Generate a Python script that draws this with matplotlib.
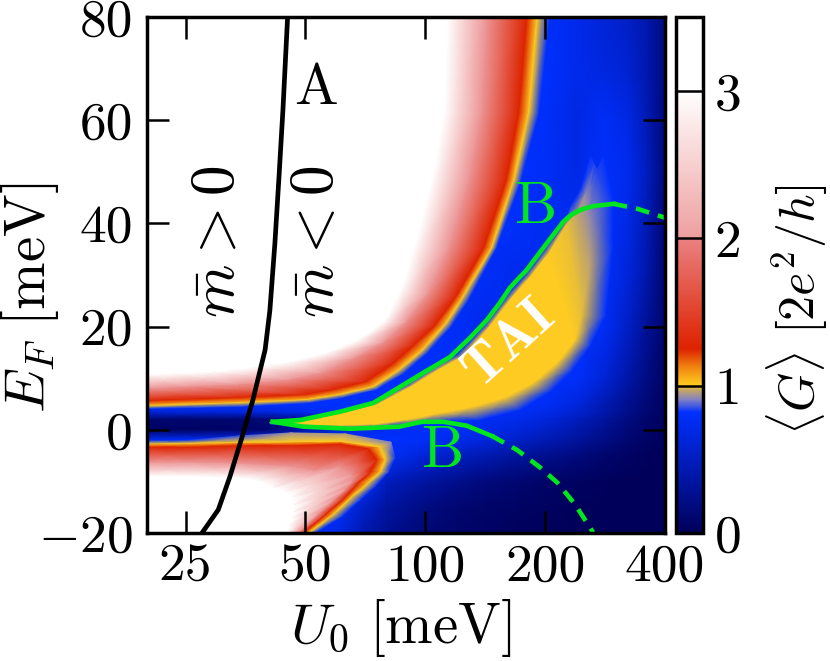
# -*- coding: utf-8 -*-
import numpy as np
import matplotlib
matplotlib.use("Agg")
import matplotlib.pyplot as plt
from matplotlib.colors import LinearSegmentedColormap, Normalize
from matplotlib.cm import ScalarMappable

plt.rcParams['font.family'] = ['cmr10', 'DejaVu Serif']
plt.rcParams['mathtext.fontset'] = 'cm'
plt.rcParams['axes.unicode_minus'] = False
plt.rcParams['axes.formatter.use_mathtext'] = True

# Conductance colour scale
g_max = 3.5
scale_g = [0, 0.82, 0.90, 0.97, 1.0, 1.13, 1.25, 1.99, 2.01, 3.0, 3.5]
scale_c = ['#00005a', '#0030ff', '#7f7fc8', '#c8a860', '#ffcc20', '#f08010',
           '#dd2200', '#ea8080', '#eea0a0', '#ffffff', '#ffffff']

# Background field: G on a U x EF grid, rows from EF = 80 downwards
bg_u = [20, 30, 40, 50, 60, 70, 80, 100, 120, 140, 170, 200, 240, 280, 320, 360, 400]
bg_e = [80, 70, 60, 50, 40, 30, 20, 10, 5, 3.5, 2, 0, -2, -5, -10, -15, -20]
bg_g = [
    [.8, .8, .8, .8, .8, .8, .8, .8, .8, .8, .8, .8, .72, .62, .55, .42, .18],
    [.8, .8, .8, .8, .8, .8, .8, .8, .8, .8, .82, .82, .72, .66, .60, .42, .18],
    [.8, .8, .8, .8, .8, .8, .8, .8, .8, .8, .82, .80, .68, .78, .70, .45, .15],
    [.8, .8, .8, .8, .8, .8, .8, .8, .8, .8, .82, .78, .70, .80, .75, .50, .15],
    [.8, .8, .8, .8, .8, .8, .8, .8, .8, .82, .80, .75, .75, .80, .70, .45, .12],
    [.8, .8, .8, .8, .8, .8, .8, .8, .80, .78, .72, .75, .80, .80, .65, .40, .10],
    [.8, .8, .8, .8, .8, .8, .8, .80, .78, .72, .75, .78, .80, .78, .55, .30, .08],
    [.8, .8, .8, .8, .8, .8, .8, .80, .80, .80, .80, .80, .80, .62, .40, .20, .05],
    [.82, .82, .82, .82, .82, .82, .82, .82, .82, .82, .80, .78, .65, .45, .28, .14, .03],
    [.65, .65, .68, .75, .80, .82, .82, .82, .82, .80, .78, .72, .60, .42, .26, .12, .03],
    [.10, .10, .14, .30, .60, .75, .80, .82, .80, .76, .72, .64, .50, .34, .20, .09, .02],
    [.05, .05, .10, .40, .60, .70, .75, .80, .78, .72, .65, .55, .42, .28, .16, .07, .02],
    [.78, .78, .80, .82, .82, .82, .82, .78, .72, .65, .55, .45, .34, .22, .12, .05, .02],
    [.8, .8, .8, .8, .8, .8, .80, .62, .52, .44, .34, .26, .18, .10, .05, .02, .01],
    [.8, .8, .8, .8, .8, .8, .50, .35, .25, .18, .12, .07, .04, .02, .01, 0, 0],
    [.8, .8, .8, .8, .8, .55, .35, .20, .12, .08, .05, .03, .01, 0, 0, 0, 0],
    [.8, .8, .8, .82, .70, .42, .28, .14, .08, .05, .02, .01, 0, 0, 0, 0, 0],
]

# Upper lobe: iso-conductance curves (U, EF) from the top edge to the left edge
up_white_u = [114, 112, 104, 94, 87, 79, 68, 57, 46, 36.5, 29, 23.5, 20]
up_white_e = [80, 61.6, 48.4, 35.3, 27, 21, 17.4, 15, 13.2, 12, 11.2, 10.9, 10.7]
up_pink_u = [143, 139, 129, 115, 102, 90, 79, 67, 55, 46, 34, 25.5, 20]
up_pink_e = [80, 61.6, 48.4, 35.3, 26.5, 21, 17, 14, 11, 9.7, 8.7, 8.3, 7.9]
up_red_u = [180, 172, 160, 140.5, 120, 106, 94, 83, 71, 59, 50, 34, 20]
up_red_e = [80, 61.6, 48.4, 35.3, 26, 20.3, 16.5, 12.8, 9.3, 7.8, 6.8, 6.2, 5.6]
up_yellow_u = [191, 182, 167, 147, 124.5, 113, 98.6, 86, 74, 61, 50.4, 34, 20]
up_yellow_e = [80, 61.6, 48.4, 35.3, 25.8, 20.7, 15.5, 11.6, 8.3, 6.8, 5.8, 5.2, 4.65]
up_blue_u = [205, 193, 174, 151, 128, 116, 101.5, 88.5, 75.5, 62, 51, 34.5, 20]
up_blue_e = [80, 61.6, 48.4, 35.3, 25, 20, 15, 11, 7.8, 6.2, 5.2, 4.5, 4.1]

# Lower lobe: same idea, from the left edge round the tip to the bottom edge
lo_white_u = [20, 25.5, 34, 38, 41.5, 44.5, 46.5, 46.8, 46.8, 46.5, 45.8, 45]
lo_white_e = [-9, -9, -9.3, -9.8, -11.2, -12, -13, -14.5, -15.9, -17, -18.4, -20]
lo_edge_u = [20, 20, 20, 20, 20, 20, 25, 30, 34, 37, 41, 45]
lo_edge_e = [-9, -11, -13, -15, -17, -20, -20, -20, -20, -20, -20, -20]
lo_pink_u = [20, 25.5, 34, 46, 52.5, 61, 65.5, 65.5, 63, 59, 54, 48]
lo_pink_e = [-6.2, -6.2, -6.4, -7, -7.8, -7.2, -8.7, -10, -11.6, -13.6, -16.3, -20]
lo_red_u = [20, 25.5, 34, 46, 61, 72, 75.5, 73, 67.5, 62.8, 56.5, 49.5]
lo_red_e = [-3.3, -3.3, -3, -3, -2.7, -3.6, -5.8, -8.1, -10.5, -13.2, -16.3, -20]
lo_yellow_u = [20, 25.5, 34, 46, 61, 77, 79.4, 77.3, 71.5, 65, 59, 51]
lo_yellow_e = [-2.7, -2.6, -2.4, -2.3, -2.2, -3.3, -5.8, -8.1, -10.5, -13.2, -16.3, -20]
lo_blue_u = [20, 25.5, 34, 46, 63, 82, 84, 81, 75, 68.6, 62, 53]
lo_blue_e = [-2.1, -2, -1.2, -0.6, -0.8, -2.4, -5.4, -8.1, -10.9, -13.6, -16.7, -20]
lo_blue_g = [.8, .8, .85, .93, .95, .9, .82, .82, .82, .82, .82, .82]

# TAI plateau: four curves from the tip near U = 41 meV to the top near U = 270 meV
tai_a_u = [40.7, 48.6, 61, 74, 90, 106, 120.5, 141.4, 162, 179, 198, 218, 233, 245, 260]
tai_a_e = [1.4, 2.1, 3.7, 5.4, 8.9, 12.4, 14.6, 20.4, 26.4, 30.2, 34.7, 39.1, 43.6, 46.5, 53.1]
tai_b_u = [40.7, 48.6, 62, 75.5, 92, 109, 124.5, 144.5, 166, 184, 204, 226, 242, 252, 266]
tai_b_e = [1.4, 1.7, 3.1, 4.8, 8.3, 11.8, 14.2, 19.8, 25.8, 29.7, 34.1, 39.7, 42.2, 45.5, 51.4]
tai_c_u = [40.7, 48.6, 61, 74, 90, 108, 130, 158.7, 187, 215, 238, 247, 260, 258, 270]
tai_c_e = [1.4, 1, 0.8, 1, 1.9, 3.1, 4.3, 6.2, 9.1, 13, 17.4, 22.1, 32, 41.9, 50.4]
tai_d_u = [40.7, 48.6, 61, 74, 90, 112, 137, 173, 206, 232, 259, 283, 295, 295, 281]
tai_d_e = [1.2, .6, .2, .4, 1, 1.6, 1.9, 3.9, 7.4, 11.2, 16.1, 22.1, 35.3, 45.2, 53.1]
tai_core_g = [1, 1, 1, 1, 1, 1, 1, 1, 1, 1, 1, .99, .96, .92, .84]

# Lines
line_a_u = [45.1, 43.9, 42.9, 41.9, 40.7, 39.6, 36.9, 34.5, 32.3, 30.2, 27.6]
line_a_e = [80, 62, 48.9, 36.1, 23.1, 15.5, 5.8, -1.9, -9.1, -15.5, -19.8]
b_up_u = [41.4, 48.6, 61, 74, 86.3, 98.6, 115.3, 129.4, 142.8, 153.9, 163.1, 172.7,
          179, 198, 222, 232, 241, 249, 266, 283, 297]
b_up_e = [1.55, 1.9, 3.5, 5.2, 8.3, 11, 14.1, 17.8, 21.3, 24.6, 27.5, 29.6,
          30.8, 35.3, 40.3, 41.6, 42.3, 42.8, 43.4, 43.6, 43.8]
b_up_dash_u = [297, 342, 400]
b_up_dash_e = [43.8, 42.8, 41.1]
b_lo_u = [41.4, 49.5, 65, 86, 98, 111, 127, 147]
b_lo_e = [1.55, 0.6, 0.2, 0.6, 1.55, 1.55, 0.8, -1.2]
b_lo_dash_u = [147, 170, 195, 215, 238, 264]
b_lo_dash_e = [-1.2, -3.9, -7.4, -10.3, -14.5, -19.9]

xticks = [25, 50, 100, 200, 400]
yticks = [-20, 0, 20, 40, 60, 80]
cticks = [0, 1, 2, 3]

cmap = LinearSegmentedColormap.from_list('cond', [(g / g_max, c) for g, c in zip(scale_g, scale_c)], N=1024)
norm = Normalize(0, g_max)


def draw_curves(ax, us, es, gs):
    # one gouraud mesh between neighbouring curves
    ax.pcolormesh(np.array(us, float), np.array(es, float), np.array(gs, float),
                  shading='gouraud', cmap=cmap, norm=norm)


W, H = 830.0, 661.0
fig = plt.figure(figsize=(8.30, 6.61), dpi=100)
ax = fig.add_axes([147 / W, 1 - 533 / H, 518 / W, 516 / H])
ax.set_xscale('log')

U, E = np.meshgrid(bg_u, bg_e)
draw_curves(ax, U, E, bg_g)

n = len(up_white_u)
draw_curves(ax,
            [[20] * n, up_white_u, up_pink_u, up_red_u, up_yellow_u, up_blue_u],
            [up_white_e, up_white_e, up_pink_e, up_red_e, up_yellow_e, up_blue_e],
            [[3.5] * n, [3.0] * n, [2.0] * n, [1.25] * n, [1.0] * n, [.82] * n])

n = len(lo_white_u)
draw_curves(ax,
            [lo_edge_u, lo_white_u, lo_pink_u, lo_red_u, lo_yellow_u, lo_blue_u],
            [lo_edge_e, lo_white_e, lo_pink_e, lo_red_e, lo_yellow_e, lo_blue_e],
            [[3.5] * n, [3.0] * n, [2.0] * n, [1.25] * n, [1.0] * n, lo_blue_g])

n = len(tai_a_u)
draw_curves(ax,
            [tai_a_u, tai_b_u, tai_c_u, tai_d_u],
            [tai_a_e, tai_b_e, tai_c_e, tai_d_e],
            [[.82] * n, tai_core_g, tai_core_g, [.82] * n])

green = '#00e61e'
ax.plot(line_a_u, line_a_e, color='k', lw=3.4)
ax.plot(b_up_u, b_up_e, color=green, lw=3.3)
ax.plot(b_lo_u, b_lo_e, color=green, lw=3.3)
ax.plot(b_up_dash_u, b_up_dash_e, color=green, lw=3.3, ls=(0, (3, 2)))
ax.plot(b_lo_dash_u, b_lo_dash_e, color=green, lw=3.3, ls=(0, (3, 2)))

ax.set_xlim(20, 400)
ax.set_ylim(-20, 80)
ax.set_xticks(xticks)
ax.set_xticklabels([str(t) for t in xticks])
ax.xaxis.set_minor_locator(matplotlib.ticker.NullLocator())
ax.set_yticks(yticks)
ax.set_yticklabels([r'$-20$' if t < 0 else str(t) for t in yticks])
ax.tick_params(which='major', direction='in', top=True, right=True, length=15.5, width=1.8,
               labelsize=38.5)
ax.tick_params(axis='x', pad=8)
ax.tick_params(axis='y', pad=10)
for s in ax.spines.values():
    s.set_linewidth(2.5)

# labels inside the map
ax.text(46.7, 65.9, r'$\mathrm{A}$', fontsize=42, ha='left', va='center')
ax.text(30.2, 36.4, r'$\bar{m} > 0$', fontsize=44, rotation=90, ha='center', va='center')
ax.text(53.5, 36.4, r'$\bar{m} < 0$', fontsize=44, rotation=90, ha='center', va='center')
ax.text(188, 43, r'$\mathrm{B}$', fontsize=43, color=green, ha='center', va='center')
ax.text(109.6, -4.3, r'$\mathrm{B}$', fontsize=43, color=green, ha='center', va='center')
ax.text(163, 16.5, r'$\mathbf{TAI}$', fontsize=40, color='w', rotation=42, ha='center', va='center')

fig.text(30 / W, 1 - 298 / H, r'$E_F\ [\mathrm{meV}]$', fontsize=41, rotation=90, ha='center', va='center')
fig.text(401 / W, 1 - 628 / H, r'$U_0\ [\mathrm{meV}]$', fontsize=41, ha='center', va='center')
fig.text(797 / W, 1 - 310 / H, r'$\langle G \rangle\ [2e^2/h]$', fontsize=36, rotation=90, ha='center', va='center')

cax = fig.add_axes([676 / W, 1 - 533 / H, 27 / W, 516 / H])
cb = fig.colorbar(ScalarMappable(norm=norm, cmap=cmap), cax=cax)
cb.set_ticks(cticks)
cb.ax.tick_params(direction='in', length=19.5, width=1.8, labelsize=38.5, pad=8)
cb.outline.set_linewidth(2.5)

fig.savefig('out.png', dpi=100)
